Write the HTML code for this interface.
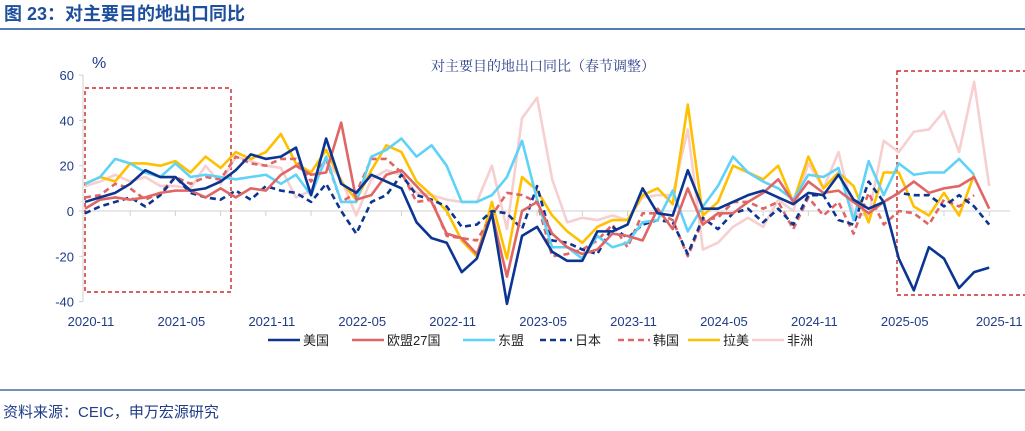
<!DOCTYPE html>
<html><head><meta charset="utf-8"><style>
body{margin:0;width:1025px;height:426px;background:#fff;overflow:hidden;font-family:"Liberation Sans","Noto Sans CJK SC",sans-serif}
</style></head><body>
<svg id="c" width="1025" height="426" xmlns="http://www.w3.org/2000/svg">
<text x="4" y="20" font-size="18" font-weight="bold" fill="#1d4f9c" font-family="Liberation Sans,Noto Sans CJK SC,sans-serif">图 23：对主要目的地出口同比</text>
<line x1="0" y1="29" x2="1025" y2="29" stroke="#1d4f9c" stroke-width="1.5"/>
<text x="543" y="71" font-size="14" text-anchor="middle" fill="#2a3f8a" font-family="Liberation Serif,Noto Serif CJK SC,serif">对主要目的地出口同比（春节调整）</text>
<text x="92" y="68" font-size="16" fill="#1f3c88">%</text>
<g id="axes"></g>
<g id="marks"></g>
<g id="legend"></g>
<line x1="0" y1="390" x2="1025" y2="390" stroke="#1d4f9c" stroke-width="1.2"/>
<text x="3" y="417" font-size="15" fill="#1f3c88">资料来源：CEIC，申万宏源研究</text>
</svg>
<script>
const yTicks=[60,40,20,0,-20,-40];
const xLabels=["2020-11","2021-05","2021-11","2022-05","2022-11","2023-05","2023-11","2024-05","2024-11","2025-05","2025-11"];
const usa=[4,6,8,12,18,15,15,9,10,13,18,25,23,24,28,7,32,12,8,16,13,10,-5,-12,-14,-27,-21,-1,-41,-11,-7,-18,-22,-22,-9,-9,-6,10,-1,-2,18,1,1,4,7,9,6,3,8,7,16,5,1,4,-21,-35,-16,-21,-34,-27,-25];
const eu=[1,5,6,5,6,8,9,9,6,10,6,10,9,16,20,16,17,39,5,7,16,18,11,4,-10,-12,-19,-1,-29,0,4,-10,-16,-19,-17,-10,-11,-13,1,-8,10,-6,-1,-1,4,8,14,4,13,8,9,4,-1,4,8,13,8,10,11,15,1];
const asean=[12,15,23,21,17,15,21,15,16,15,14,15,16,12,16,7,24,4,4,24,27,32,24,29,20,4,4,7,15,31,5,-16,-16,-21,-11,-16,-14,-5,-4,9,-9,2,11,24,17,13,10,5,16,15,19,-4,22,7,21,16,17,17,23,16];
const japan=[-1,2,4,6,2,7,15,8,6,5,9,5,11,9,8,4,12,0,-10,4,7,16,7,5,2,-7,-6,0,-1,-8,11,-13,-14,-17,-19,-7,-12,-6,-4,-5,-19,-3,-8,-1,1,-5,1,-6,7,7,-4,-6,13,4,8,7,7,2,7,2,-6];
const korea=[6,7,12,10,5,8,15,12,15,14,24,21,20,23,23,13,23,4,8,23,23,17,4,5,-11,-12,-13,-2,8,7,4,-20,-19,-17,-13,-6,-16,-1,-1,-4,-20,-4,-3,4,4,1,4,-8,6,-2,4,-10,8,-6,0,-1,-6,5,2,7];
const latam=[12,15,13,21,21,20,22,17,24,19,26,23,26,34,21,17,27,13,5,18,29,26,13,7,0,-13,-20,4,-21,15,9,-2,-9,-14,-7,-4,-4,7,10,3,47,-2,4,20,17,14,20,4,24,10,17,11,-5,17,17,2,-2,8,-2,16];
const africa=[11,13,16,13,15,11,11,10,20,12,24,22,20,19,6,9,22,14,-2,14,18,16,8,7,5,4,4,20,-8,41,50,14,-5,-3,-4,-2,-4,6,7,7,36,-17,-14,-7,-3,-7,5,0,21,10,26,-1,-2,31,26,35,36,44,26,57,11];
const seriesNames=["美国","欧盟27国","东盟","日本","韩国","拉美","非洲"];
const NS="http://www.w3.org/2000/svg";
const X0=85,DX=15.07,Y0=211,KY=2.265;
const xs=i=>X0+DX*i, ys=v=>Y0-v*KY;
function mk(t,a,p){const e=document.createElementNS(NS,t);for(const k in a)e.setAttribute(k,a[k]);p.appendChild(e);return e;}
const axes=document.getElementById('axes'),marks=document.getElementById('marks'),leg=document.getElementById('legend');
let ax=mk('line',{x1:83,y1:ys(60),x2:83,y2:ys(-40),stroke:'#d0d0d0'},axes);


let zl=mk('line',{x1:83,y1:Y0,x2:1010,y2:Y0,stroke:'#d0d0d0'},axes);


yTicks.forEach(v=>{const t=mk('text',{x:74,y:ys(v)+5,'font-size':13,'text-anchor':'end',fill:'#1f3c88'},axes);t.textContent=v;


mk('line',{x1:79,y1:ys(v),x2:83,y2:ys(v),stroke:'#d0d0d0'},axes);});
for(let i=0;i<=60;i+=3){mk('line',{x1:xs(i),y1:Y0,x2:xs(i),y2:Y0+5,stroke:'#d0d0d0'},axes);}
xLabels.forEach((l,k)=>{const t=mk('text',{x:xs(k*6)+6+(k==10?4:0),y:326,'font-size':13,'text-anchor':'middle',fill:'#1f3c88'},axes);t.textContent=l;

});
let b1=mk('rect',{x:85,y:88,width:146,height:204,fill:'none',stroke:'#c00000','stroke-width':1.2,'stroke-dasharray':'4,3'},marks);


let b2=mk('rect',{x:897,y:71,width:135,height:224,fill:'none',stroke:'#c00000','stroke-width':1.2,'stroke-dasharray':'4,3'},marks);


const defs=[
 [africa,'#f7cfd0',null,'series-africa'],
 [latam,'#ffc000',null,'series-latam'],
 [korea,'#e06666','6,4','series-korea'],
 [japan,'#0b3591','6,4','series-japan'],
 [asean,'#5fd2f7',null,'series-asean'],
 [eu,'#e06666',null,'series-eu27'],
 [usa,'#0b3591',null,'series-usa']];
defs.forEach(([d,c,da,n])=>{const p=mk('polyline',{points:d.map((v,i)=>xs(i)+','+ys(v)).join(' '),fill:'none',stroke:c,'stroke-width':2.6,'stroke-linejoin':'round'},marks);
if(da)p.setAttribute('stroke-dasharray',da);

});
const legX=[268,352,463,540,618,688,752],legC=['#0b3591','#e06666','#5fd2f7','#0b3591','#e06666','#ffc000','#f7cfd0'],legD=[null,null,null,'6,4','6,4',null,null];
seriesNames.forEach((s,k)=>{const g=mk('g',{},leg);


const l=mk('line',{x1:legX[k],y1:340,x2:legX[k]+32,y2:340,stroke:legC[k],'stroke-width':2.6},g);if(legD[k])l.setAttribute('stroke-dasharray',legD[k]);
const t=mk('text',{x:legX[k]+35,y:345,'font-size':13,fill:'#222'},g);t.textContent=s;});
</script>
</body></html>
